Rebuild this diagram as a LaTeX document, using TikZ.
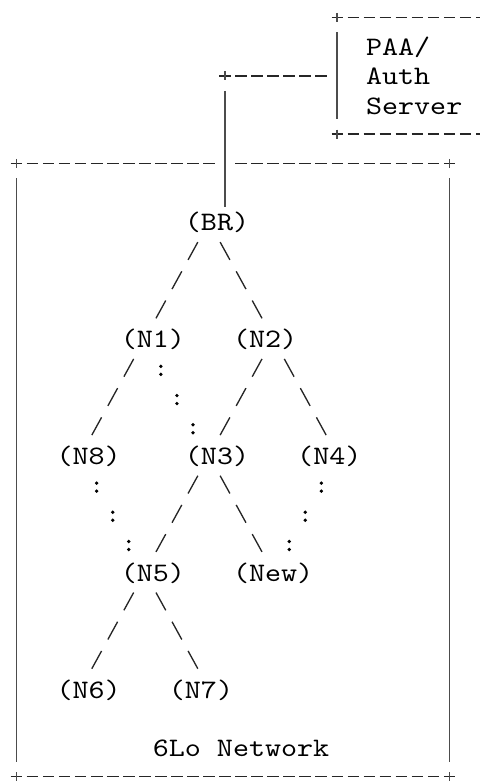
\documentclass[tikz,border=0pt]{standalone}
\usepackage{fontspec}
\newfontfamily\asciimono{lmmono10-regular}[Extension=.otf, FakeStretch=1.1457]
\usetikzlibrary{calc, decorations.markings}

\begin{document}
\begin{tikzpicture}[
      x=12.03pt, y=-21.9pt,
      every node/.style={font={\asciimono\fontsize{20pt}{21.9pt}\selectfont}},
      host/.style={inner sep=0pt, text height=17.75pt, text depth=4.15pt},
      link/.style={line width=1pt, black!85, dash pattern=on 15.2pt off 9.79pt, shorten <=17.39pt, shorten >=17.39pt},
      weak/.style={postaction={decorate}, decoration={markings, mark=between positions 0.25 and 0.75 step 0.25 with {\pgftransformresetnontranslations \fill (0pt,1.1pt) circle (1.4pt) (0pt,-4.9pt) circle (1.4pt);}}},
      rule/.style={line width=1.2pt, black!85, dash pattern=on 8.7pt off 3.33pt, shorten <=-4.35pt, shorten >=-4.35pt},
      wall/.style={line width=1.3pt, black!70},
      side/.style={wall, shorten <=11.25pt, shorten >=11.25pt}
    ]
      \useasboundingbox (-1.029,-0.596) rectangle (28.834,26.219);

      % Corners of the boxes and the uplink
      \coordinate (srvnw) at (20,0);
      \coordinate (srvsw) at (20,4);
      \coordinate (tap) at (13,2);
      \coordinate (nw) at (0,5);
      \coordinate (ne) at (27,5);
      \coordinate (sw) at (0,26);
      \coordinate (se) at (27,26);

      % Tree of hosts
      \node[host] (BR) at (12.5,7) {(BR)};
      \node[host] (N1) at (8.5,11) {(N1)};
      \node[host] (N2) at (15.5,11) {(N2)};
      \node[host] (N8) at (4.5,15) {(N8)};
      \node[host] (N3) at (12.5,15) {(N3)};
      \node[host] (N4) at (19.5,15) {(N4)};
      \node[host] (N5) at (8.5,19) {(N5)};
      \node[host] (New) at (16,19) {(New)};
      \node[host] (N6) at (4.5,23) {(N6)};
      \node[host] (N7) at (11.5,23) {(N7)};
      \node[host] (net) at (14,25) {6Lo Network};
      \node[align=left, anchor=base west] (paa) at (21.5,3.31) {PAA/\\Auth\\Server};

      % Server box (runs off the right edge)
      \draw[side] (srvnw) -- (srvsw);
      \draw[rule] (srvnw) -- ++(10,0);
      \draw[rule] (srvsw) -- ++(10,0);

      % 6Lo network box, split where the uplink passes
      \draw[side] (nw) -- (sw);
      \draw[side] (ne) -- (se);
      \draw[rule] (sw) -- (se);
      \draw[rule, shorten >=7.68pt] (nw) -- (nw -| tap);
      \draw[rule, shorten <=7.68pt] (nw -| tap) -- (ne);

      % Uplink from BR to the server
      \draw[rule, shorten >=7.68pt] (tap) -- (tap -| srvnw);
      \draw[wall, shorten <=11.25pt] (tap) -- (tap |- BR.north);

      % Corner crosses
      \foreach \c in {srvnw, srvsw, tap, nw, ne, sw, se}
        \draw[wall] ([yshift=3.4pt]\c) -- ([yshift=-3.4pt]\c);

      % Solid links
      \draw[link] ($(BR)+(-.5,0)$) -- ($(N1)+(-.5,0)$);
      \draw[link] ($(BR)+(-.5,0)$) -- ($(N2)+(.5,0)$);
      \draw[link] ($(N1)+(-.5,0)$) -- ($(N8)+(-.5,0)$);
      \draw[link] ($(N2)+(.5,0)$) -- ($(N3)+(-.5,0)$);
      \draw[link] ($(N2)+(.5,0)$) -- ($(N4)+(.5,0)$);
      \draw[link] ($(N3)+(-.5,0)$) -- ($(N5)+(-.5,0)$);
      \draw[link] ($(N3)+(-.5,0)$) -- (New.center);
      \draw[link] ($(N5)+(-.5,0)$) -- ($(N6)+(-.5,0)$);
      \draw[link] ($(N5)+(-.5,0)$) -- ($(N7)+(.5,0)$);

      % Weak links
      \path[weak] ($(N1)+(-.5,0)$) -- ($(N3)+(-.5,0)$);
      \path[weak] ($(N8)+(-.5,0)$) -- ($(N5)+(-.5,0)$);
      \path[weak] ($(N4)+(.5,0)$) -- (New.center);
    \end{tikzpicture}
\end{document}
